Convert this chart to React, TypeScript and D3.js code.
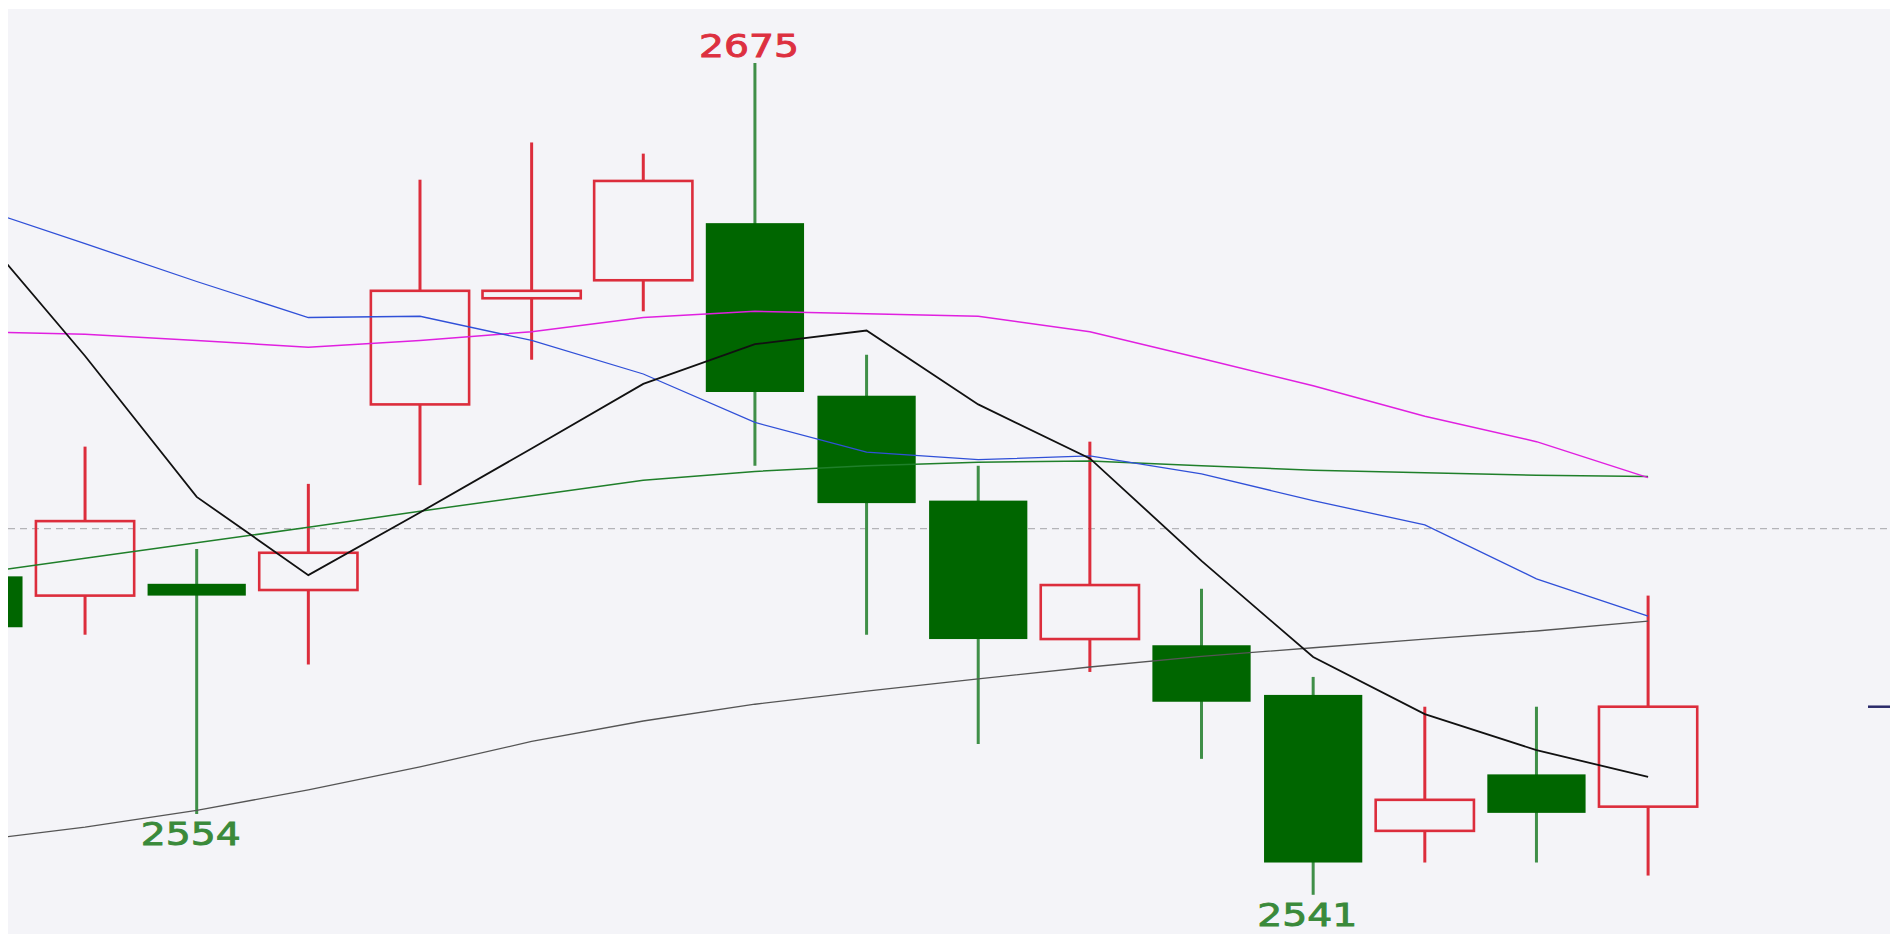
import React from "react";
import * as d3 from "d3";

// candle data (index 0 is cut off at the left edge)
const opens = [2592.3, 2589.2, 2591.1, 2590.1, 2620, 2637.1, 2640, 2649.2, 2621.4, 2604.5, 2582.2, 2581.2, 2573.2, 2551.3, 2560.4, 2555.2];
const highs = [2596, 2613.2, 2596.7, 2607.2, 2656.2, 2662.2, 2660.4, 2675, 2628, 2610.1, 2614, 2590.3, 2576.1, 2571.3, 2571.3, 2589.2];
const lows = [2580, 2582.9, 2554, 2578.1, 2607, 2627.2, 2635, 2610.1, 2582.9, 2565.3, 2576.9, 2562.9, 2541, 2546.2, 2546.2, 2544.1];
const closes = [2584.1, 2601.2, 2589.2, 2596.1, 2638.3, 2638.3, 2656, 2622, 2604.1, 2582.2, 2590.9, 2572.1, 2546.2, 2556.3, 2554.2, 2571.3];

// moving averages
const maBlack = [2649.0, 2627.8, 2605.1, 2592.5, 2602.6, 2612.9, 2623.3, 2629.7, 2631.9, 2620, 2611.3, 2594.8, 2579.3, 2570.1, 2564.3, 2560];
const maBlue = [2651.9, 2645.9, 2639.8, 2634, 2634.2, 2630.3, 2624.9, 2617.1, 2612.3, 2611.1, 2611.7, 2608.8, 2604.5, 2600.6, 2591.9, 2585.9];
const maMagenta = [2631.7, 2631.3, 2630.3, 2629.2, 2630.3, 2631.7, 2634, 2635, 2634.6, 2634.2, 2631.7, 2627.4, 2623, 2618.1, 2614, 2608.2];
const maGreen = [2592.7, 2595.2, 2597.7, 2600.2, 2602.8, 2605.3, 2607.8, 2609.2, 2610.1, 2610.7, 2610.9, 2610.1, 2609.4, 2609, 2608.6, 2608.4];
const maGray = [2549.7, 2551.9, 2554.6, 2557.9, 2561.6, 2565.7, 2569, 2571.7, 2573.8, 2575.8, 2577.7, 2579.4, 2580.8, 2582.2, 2583.5, 2585.1];

const refLine = 2600;
// labelled extremes: [candle index, "high" | "low"]
const marks: [number, string][] = [[7, "high"], [2, "low"], [12, "low"]];

const W = 1890, H = 934;
const RED = "#dc2d3c", GREEN = "#006600", GREEN_WICK = "#3f8f48";

export default function App() {
  const x = d3.scaleLinear().domain([0, opens.length - 1]).range([-26.6, 1648.1]);
  const y = d3.scaleLinear().domain([2541, 2675]).range([894.8, 63]);
  const bw = (x(1) - x(0)) * 0.88;

  const line = d3.line<number>().x((d, i) => x(i)).y(d => y(d));
  const lines = [
    { data: maGray, color: "#555555", w: 1.3 },
    { data: maGreen, color: "#1f7f2a", w: 1.5 },
    { data: maMagenta, color: "#e020e0", w: 1.5 },
    { data: maBlue, color: "#3050d8", w: 1.3 },
    { data: maBlack, color: "#111111", w: 1.8 },
  ];

  return (
    <svg width={W} height={H} style={{ position: "fixed", left: 0, top: 0 }}>
      <rect x={0} y={0} width={W} height={H} fill="#ffffff" />
      <rect x={8} y={9} width={W - 8} height={H - 9} fill="#f4f4f8" />
      <defs>
        <clipPath id="plot">
          <rect x={8} y={9} width={W - 8} height={H - 9} />
        </clipPath>
      </defs>
      <g clipPath="url(#plot)">
        <line x1={8} x2={W} y1={y(refLine)} y2={y(refLine)} stroke="#b4b4b8" strokeWidth={1.3} strokeDasharray="7,5" />
        {opens.map((o, i) => {
          const c = closes[i];
          const up = c >= o;
          const cx = x(i);
          const top = y(Math.max(o, c));
          const bot = y(Math.min(o, c));
          if (up) {
            return (
              <g key={i}>
                <line x1={cx} x2={cx} y1={y(highs[i])} y2={top} stroke={RED} strokeWidth={3} />
                <line x1={cx} x2={cx} y1={bot} y2={y(lows[i])} stroke={RED} strokeWidth={3} />
                <rect x={cx - bw / 2} y={top} width={bw} height={Math.max(bot - top, 1)} fill="none" stroke={RED} strokeWidth={2.6} />
              </g>
            );
          }
          return (
            <g key={i}>
              <line x1={cx} x2={cx} y1={y(highs[i])} y2={y(lows[i])} stroke={GREEN_WICK} strokeWidth={3} />
              <rect x={cx - bw / 2} y={top} width={bw} height={Math.max(bot - top, 2)} fill={GREEN} />
            </g>
          );
        })}
        {lines.map((l, k) => (
          <path key={k} d={line(l.data) || ""} fill="none" stroke={l.color} strokeWidth={l.w} />
        ))}
        <line x1={1868} x2={W} y1={y(closes[closes.length - 1])} y2={y(closes[closes.length - 1])} stroke="#2a2a6a" strokeWidth={2.5} />
        {marks.map(([i, kind], k) => {
          const hi = kind === "high";
          const v = hi ? highs[i] : lows[i];
          const col = hi ? "#dd3040" : "#3a8a3a";
          return (
            <text
              key={k}
              x={x(i) - 6}
              y={hi ? y(v) - 6 : y(v) + 31}
              textAnchor="middle"
              fontFamily="DejaVu Sans, Verdana, sans-serif"
              fontSize={32}
              textLength={100}
              lengthAdjust="spacingAndGlyphs"
              fill={col}
              stroke={col}
              strokeWidth={0.9}
            >
              {Math.round(v)}
            </text>
          );
        })}
      </g>
    </svg>
  );
}
